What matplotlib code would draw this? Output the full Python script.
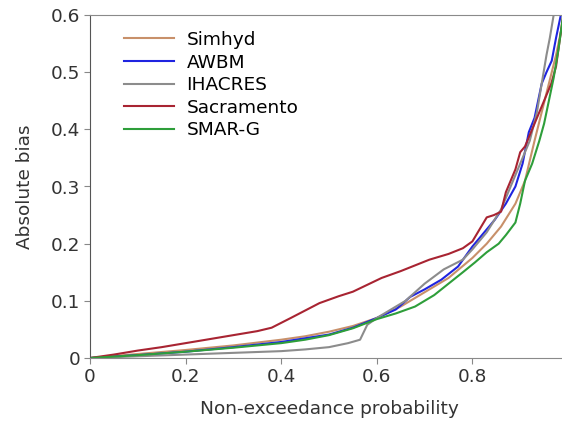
import numpy as np
import matplotlib
matplotlib.use('Agg')
import matplotlib.pyplot as plt

plt.rcParams['font.family'] = ['DejaVu Sans']

##### DATA #############################
simhyd_p = [0, 0.1, 0.2, 0.3, 0.4, 0.45, 0.5, 0.55, 0.6, 0.65, 0.7, 0.75, 0.8, 0.83,
            0.86, 0.89, 0.91, 0.93, 0.945, 0.96, 0.975, 0.985, 0.993]
simhyd_v = [0, 0.007, 0.014, 0.022, 0.032, 0.038, 0.046, 0.056, 0.07, 0.09, 0.115, 0.14,
            0.175, 0.2, 0.23, 0.27, 0.31, 0.38, 0.43, 0.48, 0.53, 0.57, 0.6]

awbm_p = [0, 0.1, 0.2, 0.3, 0.4, 0.5, 0.55, 0.6, 0.64, 0.67, 0.7, 0.735, 0.77, 0.8,
          0.82, 0.847, 0.87, 0.89, 0.905, 0.918, 0.93, 0.945, 0.955, 0.966, 0.975, 0.985]
awbm_v = [0, 0.005, 0.011, 0.019, 0.028, 0.041, 0.053, 0.07, 0.085, 0.107, 0.12, 0.137,
          0.16, 0.195, 0.215, 0.242, 0.27, 0.3, 0.34, 0.395, 0.42, 0.48, 0.5, 0.52, 0.56, 0.6]

ihacres_p = [0, 0.1, 0.2, 0.3, 0.4, 0.45, 0.5, 0.54, 0.565, 0.58, 0.6, 0.63, 0.66, 0.7,
             0.74, 0.78, 0.8, 0.83, 0.86, 0.88, 0.9, 0.92, 0.935, 0.945, 0.955, 0.962, 0.97]
ihacres_v = [0, 0.003, 0.006, 0.009, 0.012, 0.015, 0.019, 0.026, 0.032, 0.058, 0.07, 0.085,
             0.1, 0.13, 0.155, 0.172, 0.19, 0.22, 0.26, 0.3, 0.34, 0.38, 0.43, 0.48, 0.53,
             0.56, 0.6]

sacr_p = [0, 0.05, 0.1, 0.15, 0.2, 0.25, 0.3, 0.35, 0.38, 0.42, 0.45, 0.48, 0.52, 0.55,
          0.58, 0.61, 0.65, 0.68, 0.71, 0.75, 0.78, 0.8, 0.815, 0.83, 0.845, 0.86, 0.87,
          0.88, 0.89, 0.9, 0.91, 0.92, 0.94, 0.955, 0.965, 0.975, 0.98, 0.985, 0.99]
sacr_v = [0, 0.006, 0.013, 0.019, 0.026, 0.033, 0.04, 0.047, 0.053, 0.07, 0.083, 0.096,
          0.108, 0.116, 0.128, 0.14, 0.152, 0.162, 0.172, 0.182, 0.192, 0.204, 0.225,
          0.246, 0.25, 0.256, 0.29, 0.31, 0.33, 0.36, 0.37, 0.39, 0.43, 0.46, 0.48, 0.51,
          0.54, 0.57, 0.6]

smarg_p = [0, 0.1, 0.2, 0.3, 0.4, 0.45, 0.5, 0.55, 0.6, 0.64, 0.68, 0.72, 0.75, 0.78,
           0.805, 0.83, 0.855, 0.87, 0.89, 0.9, 0.91, 0.925, 0.94, 0.95, 0.96, 0.97, 0.98, 0.99]
smarg_v = [0, 0.005, 0.011, 0.018, 0.026, 0.032, 0.04, 0.052, 0.068, 0.078, 0.09, 0.11,
           0.13, 0.15, 0.167, 0.185, 0.2, 0.215, 0.237, 0.27, 0.31, 0.34, 0.38, 0.41,
           0.45, 0.49, 0.54, 0.6]

series = [('Simhyd', simhyd_p, simhyd_v, '#c8906a'),
          ('AWBM', awbm_p, awbm_v, '#1f24e0'),
          ('IHACRES', ihacres_p, ihacres_v, '#8c8c8c'),
          ('Sacramento', sacr_p, sacr_v, '#a82432'),
          ('SMAR-G', smarg_p, smarg_v, '#2e9e3a')]
########################

fs = 13.3
fig = plt.figure(figsize=(5.62, 4.26), dpi=100)
# axes runs past the right edge, as in the (cropped) original
ax = fig.add_axes([90/562, 1 - 358/426, 478/562, 343/426])

for name, p, v, c in series:
    ax.plot(p, v, color=c, lw=1.5, label=name)

ax.set_xlim(0, 1)
ax.set_ylim(0, 0.6)
ax.set_xticks([0, 0.2, 0.4, 0.6, 0.8])
ax.set_xticklabels(['0', '0.2', '0.4', '0.6', '0.8'])
ax.set_yticks([0, 0.1, 0.2, 0.3, 0.4, 0.5, 0.6])
ax.set_yticklabels(['0', '0.1', '0.2', '0.3', '0.4', '0.5', '0.6'])

for s in ax.spines.values():
    s.set_color('#8a8a8a')
ax.spines['left'].set_color('#555555')
ax.tick_params(direction='out', length=4, color='#888888', labelsize=fs,
               labelcolor='#333333', pad=3)

ax.set_xlabel('Non-exceedance probability', fontsize=fs, color='#333333', labelpad=10)
ax.set_ylabel('Absolute bias', fontsize=fs, color='#333333', labelpad=12)

ax.legend(loc='upper left', bbox_to_anchor=(0.055, 0.975), frameon=False, fontsize=fs,
          handlelength=2.7, handletextpad=0.7, labelspacing=0.25, borderaxespad=0)

fig.savefig('out.png', dpi=100)
